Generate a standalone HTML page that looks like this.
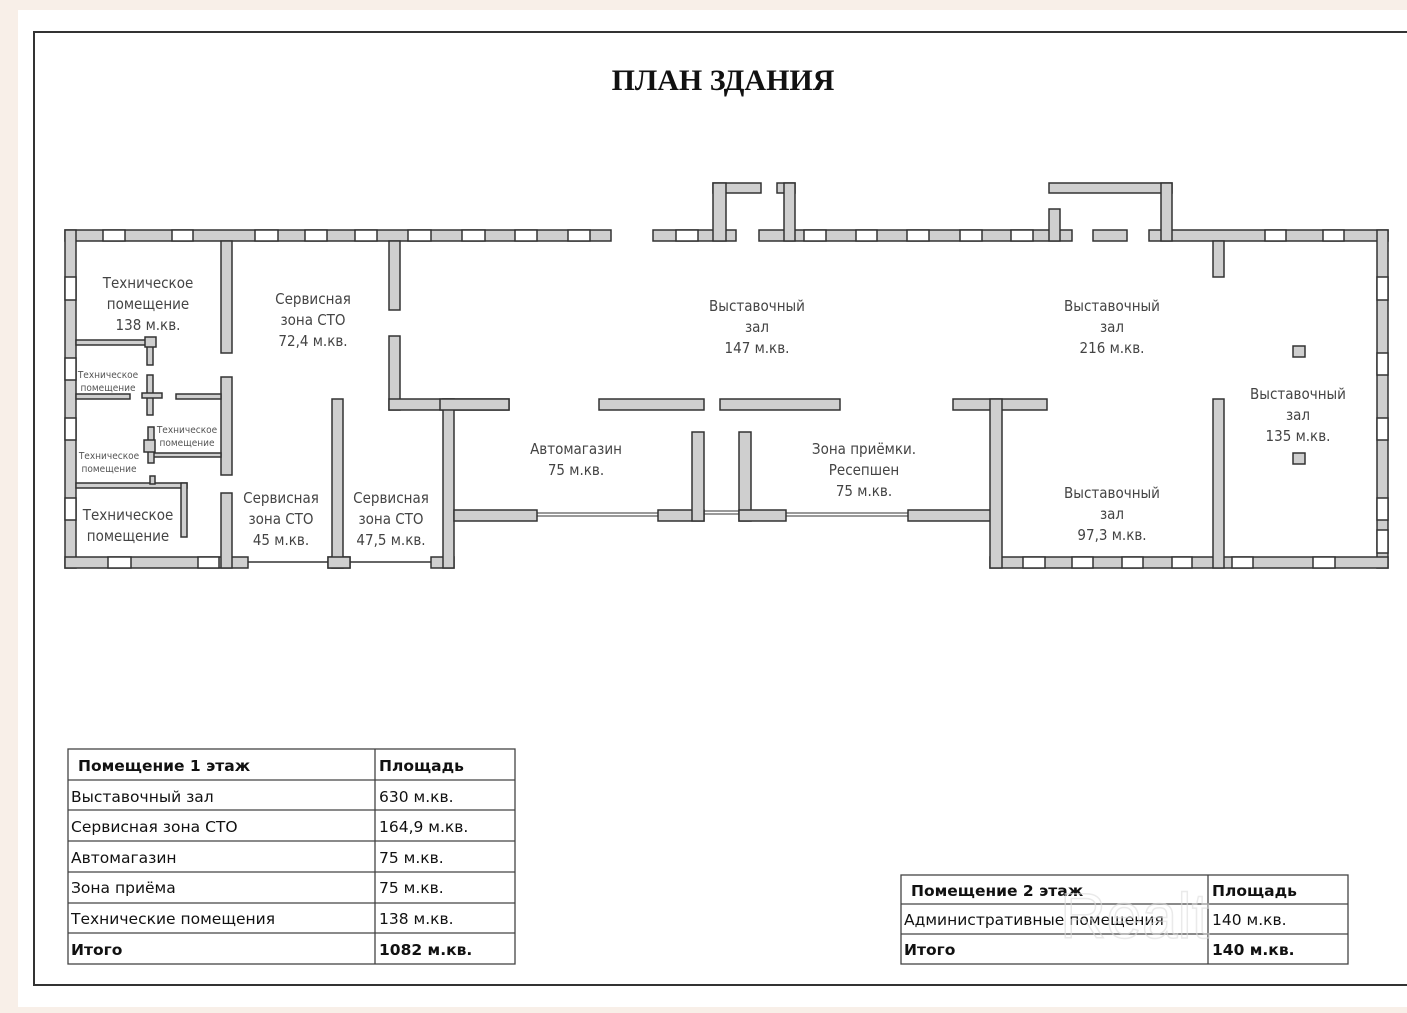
<!DOCTYPE html>
<html><head><meta charset="utf-8"><style>
html,body{margin:0;padding:0;background:#f8efe8;}
svg{display:block;}
.w{fill:#cfcfcf;stroke:#333;stroke-width:1.5}
.win{fill:#fff;stroke:#333;stroke-width:1.5}
.t{font-family:"DejaVu Sans Condensed","Liberation Sans",sans-serif;font-size:15px;fill:#444;text-anchor:middle;font-stretch:condensed}
.ts{font-family:"DejaVu Sans Condensed","Liberation Sans",sans-serif;font-size:10px;fill:#555;text-anchor:middle}
.tb{font-family:"DejaVu Sans","Liberation Sans",sans-serif;font-size:15.5px;fill:#111}
.tbb{font-family:"DejaVu Sans","Liberation Sans",sans-serif;font-size:15.5px;fill:#111;font-weight:bold}
</style></head><body>
<svg width="1407" height="1013" xmlns="http://www.w3.org/2000/svg">
<rect x="18" y="10" width="1389" height="997" fill="#fff"/>
<rect x="34" y="32" width="1400" height="953" fill="none" stroke="#333" stroke-width="2"/>
<text x="723" y="90" font-family="Liberation Serif,serif" font-weight="bold" font-size="30" text-anchor="middle" fill="#111">ПЛАН ЗДАНИЯ</text>

<g>
<rect class="w" x="65" y="230" width="546" height="11"/>
<rect class="w" x="653" y="230" width="83" height="11"/>
<rect class="w" x="759" y="230" width="313" height="11"/>
<rect class="w" x="1093" y="230" width="34" height="11"/>
<rect class="w" x="1149" y="230" width="239" height="11"/>
<rect class="w" x="713" y="183" width="48" height="10"/>
<rect class="w" x="713" y="183" width="13" height="58"/>
<rect class="w" x="777" y="183" width="18" height="10"/>
<rect class="w" x="784" y="183" width="11" height="58"/>
<rect class="w" x="1049" y="183" width="123" height="10"/>
<rect class="w" x="1161" y="183" width="11" height="58"/>
<rect class="w" x="1049" y="209" width="11" height="32"/>
<rect class="w" x="65" y="230" width="11" height="338"/>
<rect class="w" x="1377" y="230" width="11" height="338"/>
<rect class="w" x="65" y="557" width="183" height="11"/>
<rect class="w" x="328" y="557" width="22" height="11"/>
<rect class="w" x="431" y="557" width="23" height="11"/>
<rect class="w" x="990" y="557" width="398" height="11"/>
<line x1="248" y1="562" x2="328" y2="562" stroke="#333" stroke-width="1.5"/>
<line x1="350" y1="562" x2="431" y2="562" stroke="#333" stroke-width="1.5"/>
<rect class="w" x="221" y="241" width="11" height="112"/>
<rect class="w" x="221" y="377" width="11" height="98"/>
<rect class="w" x="221" y="493" width="11" height="75"/>
<rect class="w" x="389" y="241" width="11" height="69"/>
<rect class="w" x="389" y="336" width="11" height="74"/>
<rect class="w" x="389" y="399" width="120" height="11"/>
<rect class="w" x="443" y="399" width="11" height="169"/>
<rect class="w" x="332" y="399" width="11" height="169"/>
<rect class="w" x="328" y="557" width="22" height="11"/>
<rect class="w" x="76" y="340" width="78" height="5"/>
<rect class="w" x="147" y="340" width="6" height="25"/>
<rect class="w" x="145" y="337" width="11" height="10"/>
<rect class="w" x="147" y="375" width="6" height="40"/>
<rect class="w" x="142" y="393" width="20" height="5"/>
<rect class="w" x="76" y="394" width="54" height="5"/>
<rect class="w" x="176" y="394" width="45" height="5"/>
<rect class="w" x="153" y="453" width="68" height="4"/>
<rect class="w" x="148" y="427" width="6" height="36"/>
<rect class="w" x="144" y="440" width="11" height="12"/>
<rect class="w" x="76" y="483" width="111" height="5"/>
<rect class="w" x="150" y="476" width="5" height="8"/>
<rect class="w" x="181" y="483" width="6" height="54"/>
<rect class="w" x="440" y="399" width="69" height="11"/>
<rect class="w" x="599" y="399" width="105" height="11"/>
<rect class="w" x="720" y="399" width="120" height="11"/>
<rect class="w" x="953" y="399" width="94" height="11"/>
<rect class="w" x="454" y="510" width="83" height="11"/>
<rect class="w" x="658" y="510" width="46" height="11"/>
<rect class="w" x="692" y="432" width="12" height="89"/>
<rect class="w" x="739" y="432" width="12" height="89"/>
<rect class="w" x="739" y="510" width="47" height="11"/>
<rect class="w" x="908" y="510" width="90" height="11"/>
<rect class="w" x="990" y="399" width="12" height="169"/>
<line x1="537" y1="513" x2="658" y2="513" stroke="#333" stroke-width="1"/>
<line x1="537" y1="516" x2="658" y2="516" stroke="#333" stroke-width="1"/>
<line x1="704" y1="511" x2="739" y2="511" stroke="#333" stroke-width="1"/>
<line x1="704" y1="514" x2="739" y2="514" stroke="#333" stroke-width="1"/>
<line x1="786" y1="513" x2="908" y2="513" stroke="#333" stroke-width="1"/>
<line x1="786" y1="516" x2="908" y2="516" stroke="#333" stroke-width="1"/>
<rect class="w" x="1213" y="241" width="11" height="36"/>
<rect class="w" x="1213" y="399" width="11" height="169"/>
<rect class="w" x="1293" y="346" width="12" height="11"/>
<rect class="w" x="1293" y="453" width="12" height="11"/>
</g>
<g>
<rect class="win" x="103" y="230" width="22" height="11"/><rect class="win" x="172" y="230" width="21" height="11"/>
<rect class="win" x="255" y="230" width="23" height="11"/><rect class="win" x="305" y="230" width="22" height="11"/>
<rect class="win" x="355" y="230" width="22" height="11"/><rect class="win" x="408" y="230" width="23" height="11"/>
<rect class="win" x="462" y="230" width="23" height="11"/><rect class="win" x="515" y="230" width="22" height="11"/>
<rect class="win" x="568" y="230" width="22" height="11"/><rect class="win" x="676" y="230" width="22" height="11"/>
<rect class="win" x="804" y="230" width="22" height="11"/><rect class="win" x="856" y="230" width="21" height="11"/>
<rect class="win" x="907" y="230" width="22" height="11"/><rect class="win" x="960" y="230" width="22" height="11"/>
<rect class="win" x="1011" y="230" width="22" height="11"/><rect class="win" x="1265" y="230" width="21" height="11"/>
<rect class="win" x="1323" y="230" width="21" height="11"/>
<rect class="win" x="65" y="277" width="11" height="23"/><rect class="win" x="65" y="358" width="11" height="22"/>
<rect class="win" x="65" y="418" width="11" height="22"/><rect class="win" x="65" y="498" width="11" height="22"/>
<rect class="win" x="1377" y="277" width="11" height="23"/><rect class="win" x="1377" y="353" width="11" height="22"/>
<rect class="win" x="1377" y="418" width="11" height="22"/><rect class="win" x="1377" y="498" width="11" height="22"/>
<rect class="win" x="1377" y="530" width="11" height="23"/>
<rect class="win" x="108" y="557" width="23" height="11"/><rect class="win" x="198" y="557" width="21" height="11"/>
<rect class="win" x="1023" y="557" width="22" height="11"/><rect class="win" x="1072" y="557" width="21" height="11"/>
<rect class="win" x="1122" y="557" width="21" height="11"/><rect class="win" x="1172" y="557" width="20" height="11"/>
<rect class="win" x="1232" y="557" width="21" height="11"/><rect class="win" x="1313" y="557" width="22" height="11"/>
</g>
<g class="t">
<text x="148" y="288">Техническое</text><text x="148" y="309">помещение</text><text x="148" y="330">138 м.кв.</text>
<text x="313" y="304">Сервисная</text><text x="313" y="325">зона СТО</text><text x="313" y="346">72,4 м.кв.</text>
<text x="757" y="311">Выставочный</text><text x="757" y="332">зал</text><text x="757" y="353">147 м.кв.</text>
<text x="1112" y="311">Выставочный</text><text x="1112" y="332">зал</text><text x="1112" y="353">216 м.кв.</text>
<text x="1298" y="399">Выставочный</text><text x="1298" y="420">зал</text><text x="1298" y="441">135 м.кв.</text>
<text x="576" y="454">Автомагазин</text><text x="576" y="475">75 м.кв.</text>
<text x="864" y="454">Зона приёмки.</text><text x="864" y="475">Ресепшен</text><text x="864" y="496">75 м.кв.</text>
<text x="1112" y="498">Выставочный</text><text x="1112" y="519">зал</text><text x="1112" y="540">97,3 м.кв.</text>
<text x="281" y="503">Сервисная</text><text x="281" y="524">зона СТО</text><text x="281" y="545">45 м.кв.</text>
<text x="391" y="503">Сервисная</text><text x="391" y="524">зона СТО</text><text x="391" y="545">47,5 м.кв.</text>
<text x="128" y="520">Техническое</text><text x="128" y="541">помещение</text>
</g>
<g class="ts">
<text x="108" y="378">Техническое</text><text x="108" y="391">помещение</text>
<text x="187" y="433">Техническое</text><text x="187" y="446">помещение</text>
<text x="109" y="459">Техническое</text><text x="109" y="472">помещение</text>
</g>
<g fill="none" stroke="#444" stroke-width="1.3">
<rect x="68" y="749" width="447" height="215"/>
<line x1="375" y1="749" x2="375" y2="964"/>
<line x1="68" y1="780" x2="515" y2="780"/><line x1="68" y1="810" x2="515" y2="810"/>
<line x1="68" y1="841" x2="515" y2="841"/><line x1="68" y1="872" x2="515" y2="872"/>
<line x1="68" y1="903" x2="515" y2="903"/><line x1="68" y1="933" x2="515" y2="933"/>
<rect x="901" y="875" width="447" height="89"/>
<line x1="1208" y1="875" x2="1208" y2="964"/>
<line x1="901" y1="904" x2="1348" y2="904"/><line x1="901" y1="934" x2="1348" y2="934"/>
</g>
<text class="tbb" x="78" y="771">Помещение 1 этаж</text><text class="tbb" x="379" y="771">Площадь</text>
<text class="tb" x="71" y="802">Выставочный зал</text><text class="tb" x="379" y="802">630 м.кв.</text>
<text class="tb" x="71" y="832">Сервисная зона СТО</text><text class="tb" x="379" y="832">164,9 м.кв.</text>
<text class="tb" x="71" y="863">Автомагазин</text><text class="tb" x="379" y="863">75 м.кв.</text>
<text class="tb" x="71" y="893">Зона приёма</text><text class="tb" x="379" y="893">75 м.кв.</text>
<text class="tb" x="71" y="924">Технические помещения</text><text class="tb" x="379" y="924">138 м.кв.</text>
<text class="tbb" x="71" y="955">Итого</text><text class="tbb" x="379" y="955">1082 м.кв.</text>
<text class="tbb" x="911" y="896">Помещение 2 этаж</text><text class="tbb" x="1212" y="896">Площадь</text>
<text class="tb" x="904" y="925">Административные помещения</text><text class="tb" x="1212" y="925">140 м.кв.</text>
<text class="tbb" x="904" y="955">Итого</text><text class="tbb" x="1212" y="955">140 м.кв.</text>
<text x="1060" y="938" font-family="Liberation Sans,sans-serif" font-size="64" fill="none" stroke="#ddd" stroke-width="1.5" opacity="0.6">Realt</text>
</svg>
</body></html>
